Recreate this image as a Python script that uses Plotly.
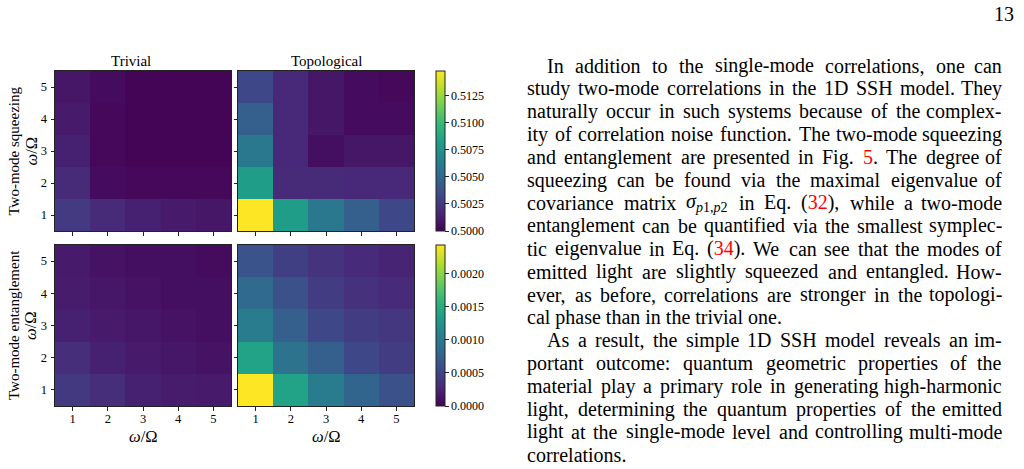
import re
import plotly.graph_objects as go

W, H = 1024, 469
SERIF = "Liberation Serif"

# ---------------- data ----------------
OMEGA = [1, 2, 3, 4, 5]
TICK_TEXT = ["1", "2", "3", "4", "5"]

# rows: omega_y = 1..5 (bottom to top), columns: omega_x = 1..5
SQZ_TRIVIAL = [
    [0.50252, 0.50178, 0.50133, 0.50104, 0.50089],
    [0.50178, 0.50044, 0.50030, 0.50030, 0.50030],
    [0.50133, 0.50030, 0.50015, 0.50015, 0.50015],
    [0.50104, 0.50030, 0.50015, 0.50015, 0.50015],
    [0.50089, 0.50044, 0.50015, 0.50015, 0.50015],
]
SQZ_TOPO = [
    [0.51480, 0.50814, 0.50592, 0.50444, 0.50326],
    [0.50814, 0.50178, 0.50178, 0.50163, 0.50163],
    [0.50592, 0.50163, 0.50059, 0.50089, 0.50089],
    [0.50444, 0.50163, 0.50089, 0.50044, 0.50044],
    [0.50326, 0.50163, 0.50089, 0.50044, 0.50030],
]
ENT_TRIVIAL = [
    [0.00041, 0.00032, 0.00022, 0.00019, 0.00017],
    [0.00032, 0.00022, 0.00017, 0.00015, 0.00012],
    [0.00022, 0.00017, 0.00015, 0.00012, 0.00010],
    [0.00019, 0.00015, 0.00012, 0.00010, 0.00010],
    [0.00017, 0.00012, 0.00010, 0.00010, 0.00007],
]
ENT_TOPO = [
    [0.00243, 0.00139, 0.00102, 0.00078, 0.00061],
    [0.00139, 0.00092, 0.00073, 0.00053, 0.00044],
    [0.00102, 0.00073, 0.00053, 0.00044, 0.00039],
    [0.00083, 0.00061, 0.00044, 0.00034, 0.00029],
    [0.00063, 0.00046, 0.00036, 0.00029, 0.00024],
]

SQZ_RANGE = [0.5000, 0.5148]
ENT_RANGE = [0.0, 0.00243]
SQZ_TICKS = [0.5000, 0.5025, 0.5050, 0.5075, 0.5100, 0.5125]
ENT_TICKS = [0.0000, 0.0005, 0.0010, 0.0015, 0.0020]

COL_TITLES = ["Trivial", "Topological"]
ROW_TITLES = ["Two-mode squeezing", "Two-mode entanglement"]
AXIS_LABEL = "<i>ω</i>/Ω"
PAGE_NUMBER = "13"

RED = "#ff0000"
BODY_LINES = [
    "In addition to the single-mode correlations, one can",
    "study two-mode correlations in the 1D SSH model. They",
    "naturally occur in such systems because of the complex-",
    "ity of correlation noise function. The two-mode squeezing",
    f"and entanglement are presented in Fig. <span style='color:{RED}'>5</span>. The degree of",
    "squeezing can be found via the maximal eigenvalue of",
    f"covariance matrix <i>σ</i><sub><i>p</i>1,<i>p</i>2</sub> in Eq. (<span style='color:{RED}'>32</span>), while a two-mode",
    "entanglement can be quantified via the smallest symplec-",
    f"tic eigenvalue in Eq. (<span style='color:{RED}'>34</span>). We can see that the modes of",
    "emitted light are slightly squeezed and entangled. How-",
    "ever, as before, correlations are stronger in the topologi-",
    "cal phase than in the trivial one.",
    "As a result, the simple 1D SSH model reveals an im-",
    "portant outcome: quantum geometric properties of the",
    "material play a primary role in generating high-harmonic",
    "light, determining the quantum properties of the emitted",
    "light at the single-mode level and controlling multi-mode",
    "correlations.",
]
BODY_INDENT = [True] + [False] * 11 + [True] + [False] * 5
BODY_JUSTIFY = [True] * 11 + [False] + [True] * 5 + [False]

# ---------------- layout geometry (pixels) ----------------
COL_X = [(55, 231), (238, 414)]
ROW_Y = [(71, 231), (245, 406)]
CBAR_X = 436
CBAR_THICK = 9
TEXT_LEFT, TEXT_RIGHT = 526, 1003
TEXT_INDENT = 20
TEXT_Y0, TEXT_DY = 65.5, 22.9
FS_BODY = 20


def px(x):
    return x / W


def py(y):
    return 1 - y / H


TIMES = {' ': 250, '!': 333, '(': 333, ')': 333, ',': 250, '-': 333, '.': 250, ':': 278, ';': 278,
         'A': 722, 'B': 667, 'C': 667, 'D': 722, 'E': 611, 'F': 556, 'G': 722, 'H': 722, 'I': 333,
         'J': 389, 'K': 722, 'L': 611, 'M': 889, 'N': 722, 'O': 722, 'P': 556, 'Q': 722, 'R': 667,
         'S': 556, 'T': 611, 'U': 722, 'V': 722, 'W': 944, 'X': 722, 'Y': 722, 'Z': 611,
         'a': 444, 'b': 500, 'c': 444, 'd': 500, 'e': 444, 'f': 333, 'g': 500, 'h': 500, 'i': 278,
         'j': 278, 'k': 500, 'l': 278, 'm': 778, 'n': 500, 'o': 500, 'p': 500, 'q': 500, 'r': 333,
         's': 389, 't': 278, 'u': 500, 'v': 500, 'w': 722, 'x': 500, 'y': 500, 'z': 444,
         'σ': 560, 'ω': 690, 'Ω': 770}


def text_width(markup, size):
    total, scale = 0.0, 1.0
    for tok in re.split(r'(<[^>]+>)', markup):
        if tok.startswith('<'):
            t = tok.lower()
            if t.startswith('<sub'):
                scale = 0.7
            elif t.startswith('</sub'):
                scale = 1.0
            continue
        for ch in tok:
            total += TIMES.get(ch, 500) * scale
    return total * size / 1000.0


def split_words(line):
    # split on spaces that are not inside tags
    words, cur, depth = [], "", 0
    for ch in line:
        if ch == '<':
            depth += 1
        elif ch == '>':
            depth -= 1
        if ch == ' ' and depth == 0:
            words.append(cur)
            cur = ""
        else:
            cur += ch
    words.append(cur)
    return words


fig = go.Figure()

panels = [
    (SQZ_TRIVIAL, 0, 0, "coloraxis"),
    (SQZ_TOPO, 0, 1, "coloraxis"),
    (ENT_TRIVIAL, 1, 0, "coloraxis2"),
    (ENT_TOPO, 1, 1, "coloraxis2"),
]

layout_axes = {}
for k, (z, r, c, cax) in enumerate(panels):
    idx = "" if k == 0 else str(k + 1)
    fig.add_trace(go.Heatmap(z=z, x=OMEGA, y=OMEGA, coloraxis=cax,
                             xaxis="x" + idx, yaxis="y" + idx, hoverongaps=False))
    x0, x1 = COL_X[c]
    y0, y1 = ROW_Y[r]
    common = dict(showline=True, mirror=True, linecolor="#222", linewidth=1,
                  ticks="outside", ticklen=3.5, tickwidth=1, tickcolor="#222",
                  showgrid=False, zeroline=False, tickvals=OMEGA, ticktext=TICK_TEXT,
                  range=[0.5, 5.5], fixedrange=True,
                  tickfont=dict(family=SERIF, size=12.5, color="black"))
    layout_axes["xaxis" + idx] = dict(common, domain=[px(x0), px(x1)],
                                      anchor="y" + idx, showticklabels=(r == 1),
                                      ticklabelstandoff=-3)
    layout_axes["yaxis" + idx] = dict(common, domain=[py(y1), py(y0)],
                                      anchor="x" + idx, showticklabels=(c == 0),
                                      ticklabelstandoff=1)

fig.update_layout(**layout_axes)


def cbar(r, ticks):
    y0, y1 = ROW_Y[r]
    return dict(x=px(CBAR_X), xanchor="left", xpad=0, ypad=0,
                y=py((y0 + y1) / 2), yanchor="middle",
                len=(y1 - y0) / H, lenmode="fraction",
                thickness=CBAR_THICK, thicknessmode="pixels",
                outlinewidth=1, outlinecolor="#222",
                ticks="outside", ticklen=3.5, tickwidth=1, tickcolor="#222",
                tickvals=ticks, ticktext=[f"{t:.4f}" for t in ticks],
                tickfont=dict(family=SERIF, size=12, color="black"))


fig.update_layout(
    coloraxis=dict(colorscale="Viridis", cmin=SQZ_RANGE[0], cmax=SQZ_RANGE[1],
                   colorbar=cbar(0, SQZ_TICKS)),
    coloraxis2=dict(colorscale="Viridis", cmin=ENT_RANGE[0], cmax=ENT_RANGE[1],
                    colorbar=cbar(1, ENT_TICKS)),
)

ann = []


def add_text(x, y, text, size, xanchor="center", yanchor="middle", angle=0):
    ann.append(dict(x=px(x), y=py(y), xref="paper", yref="paper", text=text,
                    showarrow=False, xanchor=xanchor, yanchor=yanchor, textangle=angle,
                    borderpad=0, font=dict(family=SERIF, size=size, color="black")))


# panel titles
add_text(131, 61, COL_TITLES[0], 15)
add_text(326, 61, COL_TITLES[1], 15)
# row labels
for r in range(2):
    yc = (ROW_Y[r][0] + ROW_Y[r][1]) / 2
    add_text(13.5, yc, ROW_TITLES[r], 15, angle=-90)
    add_text(30.5, yc, AXIS_LABEL, 16.5, angle=-90)
# x labels
for c in range(2):
    add_text((COL_X[c][0] + COL_X[c][1]) / 2, 436, AXIS_LABEL, 16.5)

# page number
add_text(1015, 14, PAGE_NUMBER, FS_BODY, xanchor="right")

# body text, justified word by word
for i, line in enumerate(BODY_LINES):
    y = TEXT_Y0 + i * TEXT_DY
    left = TEXT_LEFT + (TEXT_INDENT if BODY_INDENT[i] else 0)
    if not BODY_JUSTIFY[i]:
        add_text(left, y, line, FS_BODY, xanchor="left")
        continue
    words = split_words(line)
    widths = [text_width(w, FS_BODY) for w in words]
    gap = (TEXT_RIGHT - left - sum(widths)) / (len(words) - 1)
    x = left
    for j, (w, wd) in enumerate(zip(words, widths)):
        if j == len(words) - 1:
            add_text(TEXT_RIGHT, y, w, FS_BODY, xanchor="right")
        else:
            add_text(x, y, w, FS_BODY, xanchor="left")
        x += wd + gap

fig.update_layout(
    annotations=ann,
    width=W, height=H,
    margin=dict(l=0, r=0, t=0, b=0, pad=0),
    paper_bgcolor="white", plot_bgcolor="white",
    font=dict(family=SERIF, color="black"),
    showlegend=False,
)

fig.write_html("out.html", config={"displayModeBar": False})
